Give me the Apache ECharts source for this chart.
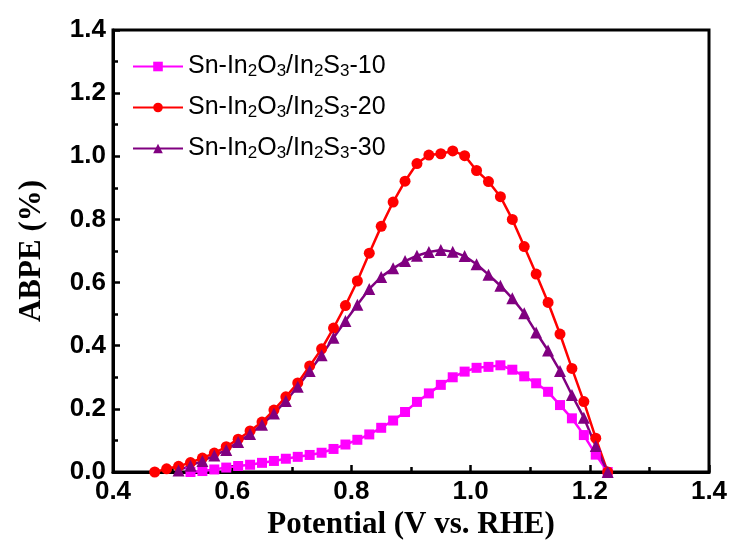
<!DOCTYPE html>
<html>
<head>
<meta charset="utf-8">
<script src="https://cdn.jsdelivr.net/npm/echarts@6/dist/echarts.min.js"></script>
<style>
  html, body { margin: 0; padding: 0; background: #fff; }
  #chart { width: 734px; height: 550px; }
</style>
</head>
<body>
<div id="chart"></div>
<script>
// potential (V vs. RHE) for each sample, and ABPE (%)
const v10 = [0.53,0.55,0.57,0.59,0.61,0.63,0.65,0.67,0.69,0.71,0.73,0.75,0.77,0.79,0.81,0.83,0.85,0.87,0.89,0.91,0.93,0.95,0.97,0.99,1.01,1.03,1.05,1.07,1.09,1.11,1.13,1.15,1.17,1.19,1.21,1.23];
const abpe10 = [0.0,0.003,0.008,0.014,0.019,0.023,0.029,0.035,0.042,0.048,0.054,0.061,0.073,0.087,0.102,0.119,0.140,0.163,0.19,0.222,0.249,0.276,0.30,0.318,0.33,0.333,0.338,0.324,0.303,0.281,0.254,0.212,0.17,0.117,0.055,0.0];

const v20 = [0.47,0.49,0.51,0.53,0.55,0.57,0.59,0.61,0.63,0.65,0.67,0.69,0.71,0.73,0.75,0.77,0.79,0.81,0.83,0.85,0.87,0.89,0.91,0.93,0.95,0.97,0.99,1.01,1.03,1.05,1.07,1.09,1.11,1.13,1.15,1.17,1.19,1.21,1.23];
const abpe20 = [0.0,0.01,0.018,0.03,0.044,0.06,0.08,0.104,0.13,0.158,0.196,0.238,0.282,0.336,0.39,0.456,0.527,0.605,0.693,0.778,0.855,0.921,0.977,1.004,1.008,1.017,1.002,0.955,0.92,0.872,0.80,0.714,0.627,0.537,0.437,0.328,0.223,0.107,0.0];

const v30 = [0.51,0.53,0.55,0.57,0.59,0.61,0.63,0.65,0.67,0.69,0.71,0.73,0.75,0.77,0.79,0.81,0.83,0.85,0.87,0.89,0.91,0.93,0.95,0.97,0.99,1.01,1.03,1.05,1.07,1.09,1.11,1.13,1.15,1.17,1.19,1.21,1.23];
const abpe30 = [0.005,0.02,0.035,0.052,0.07,0.095,0.12,0.15,0.185,0.225,0.27,0.32,0.37,0.425,0.478,0.53,0.58,0.618,0.645,0.668,0.685,0.697,0.703,0.698,0.684,0.658,0.625,0.59,0.55,0.503,0.442,0.385,0.32,0.244,0.172,0.082,0.0];

const names = ['Sn-In2O3/In2S3-10', 'Sn-In2O3/In2S3-20', 'Sn-In2O3/In2S3-30'];
const legendText = {
  'Sn-In2O3/In2S3-10': '{n|Sn-In}{s|2}{n|O}{s|3}{n|/In}{s|2}{n|S}{s|3}{n|-10}',
  'Sn-In2O3/In2S3-20': '{n|Sn-In}{s|2}{n|O}{s|3}{n|/In}{s|2}{n|S}{s|3}{n|-20}',
  'Sn-In2O3/In2S3-30': '{n|Sn-In}{s|2}{n|O}{s|3}{n|/In}{s|2}{n|S}{s|3}{n|-30}'
};

function pairs(xs, ys) {
  return xs.map((x, i) => [x, ys[i]]);
}

const chart = echarts.init(document.getElementById('chart'));

const tickFont = { fontFamily: 'Liberation Sans, Arial', fontWeight: 'bold', fontSize: 26, color: '#000' };
const nameFont = { fontFamily: 'Liberation Serif, Times New Roman', fontWeight: 'bold', fontSize: 31, color: '#000' };

chart.setOption({
  animation: false,
  grid: {
    left: 113, right: 25, top: 30, bottom: 78,
    show: true, borderColor: '#000', borderWidth: 3
  },
  legend: {
    data: names,
    orient: 'vertical',
    left: 127,
    top: 47,
    itemGap: 13,
    itemWidth: 50,
    itemHeight: 12,
    formatter: (name) => legendText[name],
    textStyle: {
      rich: {
        n: { fontFamily: 'Liberation Sans, Arial', fontSize: 25, color: '#000', lineHeight: 27 },
        s: { fontFamily: 'Liberation Sans, Arial', fontSize: 17, color: '#000', verticalAlign: 'bottom', lineHeight: 27, padding: [11, 0, 0, 0] }
      }
    }
  },
  xAxis: {
    type: 'value',
    min: 0.4, max: 1.4, interval: 0.2,
    name: 'Potential (V vs. RHE)',
    nameLocation: 'middle',
    nameGap: 35,
    nameTextStyle: nameFont,
    axisLine: { lineStyle: { color: '#000', width: 3 } },
    axisTick: { inside: true, length: 7, lineStyle: { color: '#000', width: 2.5 } },
    minorTick: { show: true, splitNumber: 2, length: 5, lineStyle: { color: '#000', width: 2.5 } },
    axisLabel: Object.assign({ margin: 7, formatter: (v) => v.toFixed(1) }, tickFont),
    splitLine: { show: false }
  },
  yAxis: {
    type: 'value',
    min: 0, max: 1.4, interval: 0.2,
    name: 'ABPE (%)',
    nameLocation: 'middle',
    nameGap: 66,
    nameTextStyle: nameFont,
    axisLine: { lineStyle: { color: '#000', width: 3 } },
    axisTick: { inside: true, length: 7, lineStyle: { color: '#000', width: 2.5 } },
    minorTick: { show: true, splitNumber: 2, length: 5, lineStyle: { color: '#000', width: 2.5 } },
    axisLabel: Object.assign({ margin: 7, formatter: (v) => v.toFixed(1) }, tickFont),
    splitLine: { show: false }
  },
  series: [
    {
      name: names[0], type: 'line', data: pairs(v10, abpe10),
      symbol: 'rect', symbolSize: 10,
      itemStyle: { color: '#FF00FF' }, lineStyle: { color: '#FF00FF', width: 2.5 }
    },
    {
      name: names[1], type: 'line', data: pairs(v20, abpe20),
      symbol: 'circle', symbolSize: 11,
      itemStyle: { color: '#FF0000' }, lineStyle: { color: '#FF0000', width: 2.5 }
    },
    {
      name: names[2], type: 'line', data: pairs(v30, abpe30),
      symbol: 'triangle', symbolSize: 12,
      itemStyle: { color: '#800080' }, lineStyle: { color: '#800080', width: 2.5 }
    }
  ]
});
</script>
</body>
</html>
